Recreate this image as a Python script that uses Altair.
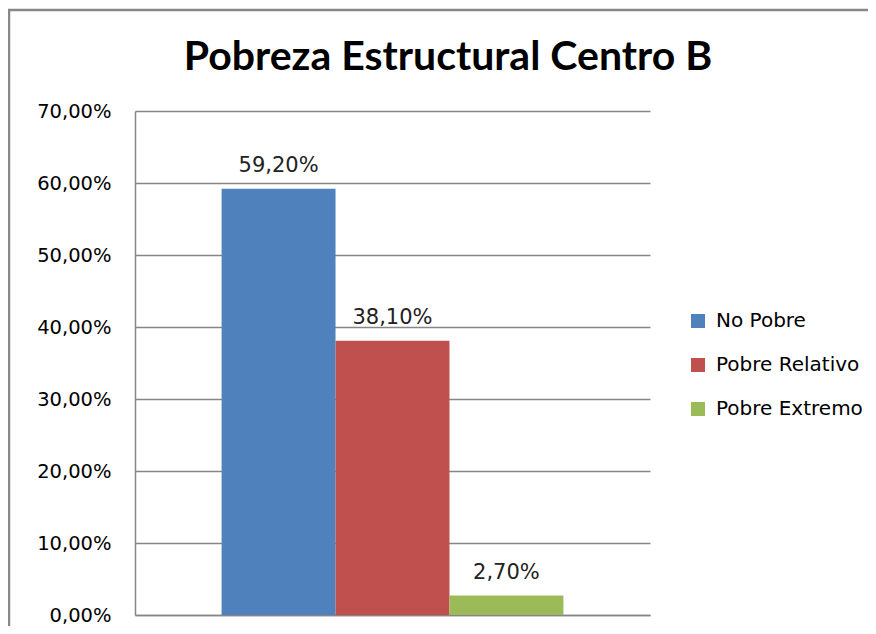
import altair as alt
import pandas as pd

categories = ["No Pobre", "Pobre Relativo", "Pobre Extremo"]
values = [0.592, 0.381, 0.027]
colors = ["#4F81BD", "#C0504D", "#9BBB59"]
y_ticks = [0.0, 0.1, 0.2, 0.3, 0.4, 0.5, 0.6, 0.7]
title_text = ["Pobreza Estructural Centro B"]

df = pd.DataFrame({"cat": categories, "val": values})
frame_df = pd.DataFrame({"k": [0]})
title_df = pd.DataFrame({"t": title_text})

FONT = "DejaVu Sans"

base = alt.Chart(df).transform_calculate(
    label="replace(format(datum.val, '.2%'), '.', ',')"
)

x_enc = alt.X(
    "cat:N",
    sort=categories,
    scale=alt.Scale(paddingInner=0, paddingOuter=0.76),
    axis=alt.Axis(labels=False, ticks=False, title=None, domainColor="#868686",
                  domainWidth=1.5),
)
y_enc = alt.Y(
    "val:Q",
    scale=alt.Scale(domain=[0, 0.7], nice=False),
    axis=alt.Axis(
        values=y_ticks,
        labelExpr="replace(format(datum.value, '.2%'), '.', ',')",
        title=None,
        ticks=False,
        grid=True,
        gridColor="#868686",
        gridWidth=1.5,
        domainColor="#868686",
        domainWidth=1.5,
        labelFont=FONT,
        labelFontSize=19.5,
        labelColor="#000000",
        labelPadding=24,
    ),
)

bars = base.mark_bar().encode(
    x=x_enc,
    y=y_enc,
    color=alt.Color(
        "cat:N",
        scale=alt.Scale(domain=categories, range=colors),
        legend=alt.Legend(
            title=None,
            orient="none",
            legendX=553,
            legendY=200,
            symbolType="square",
            symbolSize=196,
            symbolStrokeWidth=0,
            labelFont=FONT,
            labelFontSize=20,
            labelColor="#000000",
            labelOffset=8,
            rowPadding=24,
        ),
    ),
)

labels = base.mark_text(dy=-23, font=FONT, fontSize=21, color="#222222").encode(
    x=alt.X("cat:N", sort=categories),
    y="val:Q",
    text="label:N",
)

frame = alt.Chart(frame_df).mark_rect(
    filled=False, stroke="#888888", strokeWidth=2.5
).encode(
    x=alt.value(-126),
    y=alt.value(-101),
    x2=alt.value(900),
    y2=alt.value(700),
)

title = alt.Chart(title_df).mark_text(
    font="Lato", fontSize=41, fontWeight="bold", color="#000000",
    align="center", baseline="middle",
).encode(
    x=alt.value(313),
    y=alt.value(-53),
    text="t:N",
)

chart = alt.layer(frame, bars, labels, title).properties(
    width=515,
    height=504,
    padding={"left": 127, "top": 103, "right": 218, "bottom": 11},
    autosize=alt.AutoSizeParams(type="none"),
).configure_view(stroke=None)

chart.save("out.html", embed_options={"renderer": "svg", "actions": False})
